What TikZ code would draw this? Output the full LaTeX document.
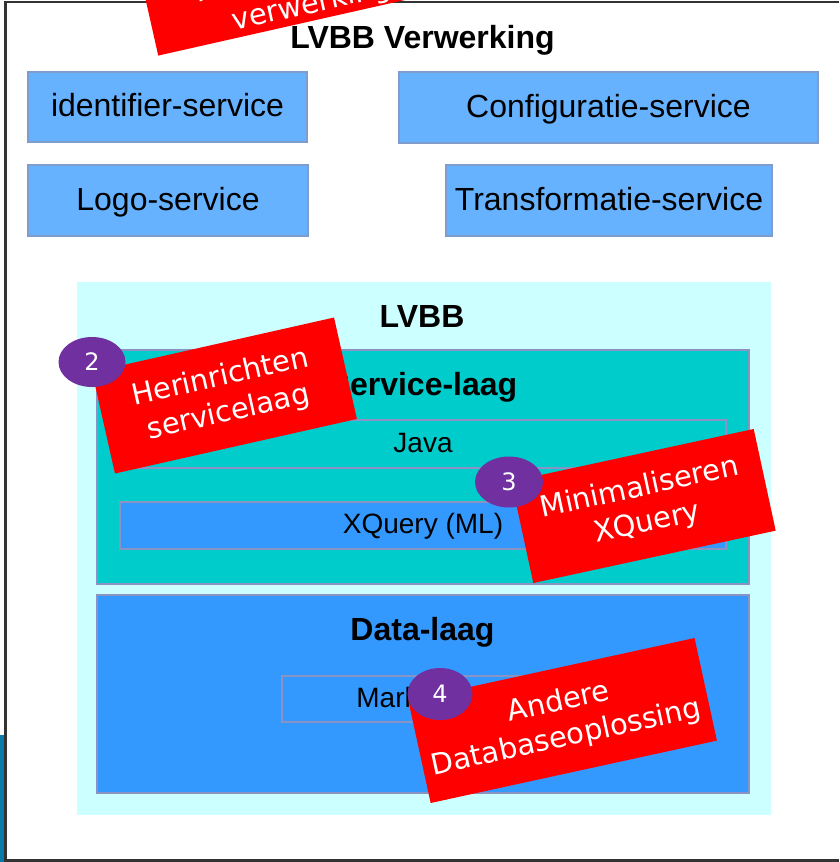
\documentclass[tikz,border=0pt]{standalone}
\usepackage{fontspec}
\setmainfont{Liberation Sans}
\newfontfamily\callfont{DejaVu Sans}
\usetikzlibrary{shapes.geometric}
\definecolor{svcblue}{HTML}{66B2FF}
\definecolor{svcborder}{HTML}{7F9CCF}
\definecolor{lvbbcyan}{HTML}{CCFFFF}
\definecolor{tealfill}{HTML}{00CCCC}
\definecolor{datablue}{HTML}{3399FF}
\definecolor{layerborder}{HTML}{8A93C4}
\definecolor{calloutred}{HTML}{FF0000}
\definecolor{numpurple}{HTML}{7030A0}
\definecolor{stripteal}{HTML}{0A7BA6}
\definecolor{framegray}{HTML}{333333}
\begin{document}
\begin{tikzpicture}[x=1pt,y=-1pt,
  svc/.style={draw=svcborder, line width=1.5pt, fill=svcblue, inner sep=0pt,
    font=\fontsize{32}{38}\selectfont, text height=23pt, text depth=4pt},
  layer/.style={draw=layerborder, line width=1.5pt, inner sep=0pt},
  inbox/.style={draw=layerborder, line width=1.5pt, inner sep=0pt,
    font=\fontsize{28}{34}\selectfont, text height=20pt, text depth=4pt},
  titletext/.style={font=\bfseries\fontsize{32}{38}\selectfont, inner sep=0pt, anchor=base},
  callout/.style={fill=calloutred, text=white, align=center, inner sep=0pt,
    font=\callfont\fontsize{29}{36}\selectfont},
  calltext/.style={text=white, inner sep=0pt, anchor=base, font=\callfont\fontsize{29}{36}\selectfont},
  num/.style={ellipse, fill=numpurple, text=white, inner sep=0pt,
    font=\callfont\fontsize{24}{28}\selectfont}
]
\useasboundingbox (0,0) rectangle (839,862);
\clip (0,0) rectangle (839,862);
\fill[white] (0,0) rectangle (839,862);
% frame
\fill[stripteal] (0,735) rectangle (4,862);
\draw[framegray, line width=2.5pt] (839,2) -- (5.5,2) -- (5.5,860.5) -- (839,860.5);

% top title
\node[titletext] (title) at (422.5,48) {LVBB Verwerking};

% services
\node[svc, minimum width=279pt, minimum height=70pt] (ids) at (167.5,107) {identifier-service};
\node[svc, minimum width=419pt, minimum height=71pt] (cfg) at (608.5,107.5) {Configuratie-service};
\node[svc, minimum width=280pt, minimum height=71pt] (logo) at (168,200.5) {Logo-service};
\node[svc, minimum width=326pt, minimum height=71pt] (trf) at (609,200.5) {Transformatie-service};

% LVBB
\node[fill=lvbbcyan, inner sep=0pt, minimum width=694pt, minimum height=533pt] (lvbb) at (424,548.5) {};
\node[titletext] (lvbbt) at (422,327) {LVBB};

% service layer
\node[layer, fill=tealfill, minimum width=652pt, minimum height=234pt] (svl) at (423,467) {};
\node[titletext] (svlt) at (423,395) {Service-laag};
\node[inbox, fill=tealfill, minimum width=606pt, minimum height=48pt] (java) at (423,444) {Java};
\node[inbox, fill=datablue, minimum width=606pt, minimum height=47pt] (xq) at (423,525.5) {XQuery (ML)};

% data layer
\node[layer, fill=datablue, minimum width=652pt, minimum height=198pt] (dl) at (423,694) {};
\node[titletext] (dlt) at (422.5,640) {Data-laag};
\node[inbox, fill=datablue, minimum width=278pt, minimum height=46pt] (ml) at (421,699) {MarkLogic};

% callout 1 (top, partly outside)
\node[callout, rotate=12.7, minimum width=322pt, minimum height=100pt] (c1) at (304.3,-28.6) {};
\node[calltext, rotate=12.7] (c1a) at (305.8,-22.3) {Implementeren};
\node[calltext, rotate=12.7] (c1b) at (313.7,12.8) {verwerking};

% callout 2
\node[callout, rotate=12.7, minimum width=248pt, minimum height=104pt] (c2) at (224.5,395.5) {Herinrichten\\servicelaag};
\node[num, minimum width=67pt, minimum height=50pt] (n2) at (92,362) {2};

% callout 3
\node[callout, rotate=12.2, minimum width=248pt, minimum height=104pt] (c3) at (643.5,506) {Minimaliseren\\XQuery};
\node[num, minimum width=68pt, minimum height=51pt] (n3) at (509,482) {3};

% callout 4
\node[callout, rotate=12.3, minimum width=293pt, minimum height=105pt] (c4) at (562.6,720.5) {Andere\\Databaseoplossing};
\node[num, minimum width=65pt, minimum height=52pt] (n4) at (440,694) {4};
\end{tikzpicture}
\end{document}
